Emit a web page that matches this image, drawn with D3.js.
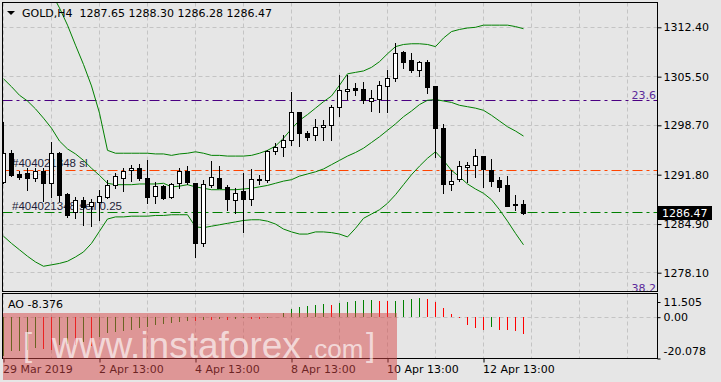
<!DOCTYPE html>
<html>
<head>
<meta charset="utf-8">
<script src="https://cdn.jsdelivr.net/npm/d3@7"></script>
<style>
  html, body { margin: 0; padding: 0; background: #e6e6e6; }
  svg { display: block; }
</style>
</head>
<body>
<svg id="chart" width="721" height="382"></svg>
<script>
// ---- data ----
const headerSymbol = 'GOLD,H4';
const headerOHLC = [1287.65, 1288.30, 1286.28, 1286.47];

const timeLabels = ['29 Mar 2019', '2 Apr 13:00', '4 Apr 13:00', '8 Apr 13:00', '10 Apr 13:00', '12 Apr 13:00'];
const timeLabelIndex = [0, 12, 24, 36, 48, 60];

const open = [1290.8, 1294.8, 1291.8, 1292.0, 1291.4, 1292.3, 1290.6, 1294.8, 1289.0, 1286.6,
  1288.2, 1287.3, 1287.9, 1288.7, 1290.3, 1291.4, 1292.4, 1292.7, 1291.3, 1288.7,
  1290.2, 1288.6, 1290.5, 1292.2, 1290.6, 1282.1, 1290.2, 1291.3, 1290.0, 1288.2,
  1289.4, 1288.2, 1291.0, 1291.1, 1295.1, 1295.6, 1296.6, 1300.5, 1297.6, 1297.4,
  1298.4, 1298.7, 1301.2, 1303.4, 1303.8, 1303.7, 1302.1, 1302.3, 1304.2, 1305.3,
  1308.9, 1307.8, 1306.5, 1307.5, 1304.1, 1298.2, 1290.4, 1291.0, 1292.9, 1293.0,
  1294.3, 1292.4, 1291.0, 1290.3, 1287.6, 1287.65];
const high = [1299.2, 1295.2, 1292.3, 1292.7, 1292.8, 1292.7, 1296.3, 1295.0, 1289.2, 1288.7,
  1288.7, 1288.4, 1289.7, 1291.1, 1292.0, 1292.7, 1293.1, 1293.3, 1293.8, 1290.8,
  1290.3, 1290.7, 1292.8, 1293.0, 1290.7, 1291.0, 1293.7, 1293.0, 1290.4, 1290.0,
  1292.1, 1292.6, 1291.7, 1295.2, 1296.2, 1297.4, 1303.3, 1300.6, 1297.9, 1299.6,
  1299.4, 1301.5, 1305.7, 1305.7, 1304.6, 1304.7, 1303.7, 1304.9, 1306.5, 1310.2,
  1309.1, 1308.8, 1307.7, 1307.8, 1304.2, 1298.9, 1292.4, 1293.7, 1293.6, 1295.4,
  1294.4, 1294.0, 1291.5, 1291.6, 1289.0, 1288.30];
const low = [1290.6, 1291.6, 1291.2, 1289.7, 1290.9, 1288.1, 1288.7, 1288.1, 1285.9, 1285.7,
  1284.8, 1284.6, 1285.5, 1288.6, 1290.0, 1289.5, 1290.9, 1291.1, 1287.9, 1287.9,
  1288.4, 1288.6, 1289.9, 1290.5, 1280.3, 1281.8, 1290.1, 1289.9, 1286.9, 1286.5,
  1283.8, 1287.5, 1290.5, 1290.8, 1294.7, 1294.4, 1295.9, 1295.8, 1296.7, 1296.6,
  1296.7, 1296.6, 1300.0, 1302.4, 1302.9, 1301.8, 1300.7, 1300.6, 1300.5, 1304.9,
  1306.7, 1306.2, 1305.6, 1303.2, 1294.3, 1289.3, 1289.6, 1290.9, 1290.8, 1291.5,
  1290.1, 1290.2, 1289.5, 1287.4, 1286.8, 1286.28];
const close = [1294.8, 1291.7, 1291.4, 1291.4, 1292.3, 1290.6, 1294.8, 1289.0, 1286.0, 1288.2,
  1287.3, 1287.9, 1288.7, 1290.3, 1291.6, 1292.3, 1292.7, 1291.3, 1288.7, 1290.1,
  1288.5, 1290.4, 1292.2, 1290.6, 1282.2, 1290.4, 1291.4, 1290.0, 1288.2, 1289.2,
  1288.2, 1291.1, 1291.1, 1295.1, 1295.6, 1296.6, 1300.5, 1297.6, 1297.1, 1298.4,
  1298.7, 1301.2, 1303.6, 1303.7, 1303.5, 1302.1, 1302.5, 1304.2, 1305.3, 1308.8,
  1307.5, 1306.5, 1307.5, 1304.1, 1298.2, 1290.4, 1290.8, 1292.9, 1293.1, 1294.3,
  1292.4, 1290.9, 1290.1, 1287.4, 1287.4, 1286.47];

// Bollinger bands
const bbUpper = [1329.5, 1327.4, 1325.3, 1323.2, 1321.3, 1319.3, 1317.2, 1315.1, 1312.7, 1309.9,
  1307.2, 1304.2, 1300.4, 1295.2, 1294.8, 1294.8, 1294.8, 1294.8, 1294.8, 1294.7,
  1294.7, 1294.5, 1294.7, 1294.8, 1295.0, 1294.8, 1294.5, 1294.5, 1294.4, 1294.4,
  1294.4, 1294.5, 1294.8, 1295.2, 1295.8, 1296.9, 1298.2, 1299.4, 1300.2, 1301.1,
  1302.0, 1302.8, 1304.3, 1305.9, 1306.1, 1306.3, 1306.8, 1307.6, 1308.7, 1309.7,
  1310.0, 1310.1, 1310.1, 1310.0, 1309.7, 1310.9, 1311.8, 1312.1, 1312.3, 1312.4,
  1312.7, 1312.7, 1312.7, 1312.7, 1312.5, 1312.2];
const bbMiddle = [1305.2, 1304.1, 1302.9, 1302.1, 1301.0, 1299.7, 1298.3, 1296.5, 1295.4, 1294.7,
  1293.8, 1292.7, 1291.7, 1290.6, 1290.4, 1290.4, 1290.4, 1290.5, 1290.5, 1290.5,
  1290.6, 1290.1, 1290.2, 1290.4, 1290.1, 1289.9, 1289.7, 1289.7, 1289.7, 1289.7,
  1289.8, 1289.9, 1290.1, 1290.3, 1290.6, 1290.9, 1291.1, 1291.6, 1291.9, 1292.2,
  1292.6, 1293.2, 1293.8, 1294.4, 1294.9, 1295.5, 1296.3, 1297.1, 1298.0, 1298.9,
  1299.9, 1300.7, 1301.6, 1302.2, 1302.3, 1302.1, 1301.9, 1301.5, 1301.3, 1301.1,
  1300.8, 1300.1, 1299.3, 1298.5, 1297.9, 1297.2];
const bbLower = [1283.2, 1282.2, 1281.3, 1280.4, 1279.6, 1279.0, 1279.2, 1279.4, 1279.7, 1280.3,
  1281.0, 1282.2, 1283.9, 1285.6, 1285.9, 1285.9, 1286.0, 1286.0, 1286.0, 1286.1,
  1286.1, 1286.2, 1286.2, 1286.2, 1284.5, 1284.4, 1284.6, 1284.8, 1285.0, 1285.2,
  1285.4, 1285.5, 1285.5, 1285.3, 1284.9, 1284.2, 1283.8, 1283.5, 1283.5, 1283.8,
  1283.8, 1283.7, 1283.5, 1283.1, 1284.3, 1285.7, 1286.3, 1286.9, 1287.8, 1289.0,
  1290.4, 1291.8, 1293.0, 1294.1, 1295.0, 1293.8, 1292.4, 1291.5, 1290.5, 1289.8,
  1289.2, 1288.3, 1286.9, 1285.3, 1283.6, 1282.0];

// Awesome Oscillator
const aoValues = [-18.9, -16.6, -16.3, -16.0, -15.2, -15.6, -15.8, -13.4, -13.0, -13.6,
  -12.0, -13.8, -9.5, -7.8, -7.2, -6.6, -6.0, -5.4, -4.6, -3.8,
  -3.2, -2.8, -2.4, -1.9, -2.0, -1.3, -1.4, -1.1, -1.2, -0.8,
  -0.6, -0.7, -0.9, -0.3, 0.2, 1.8, 4.0, 5.0, 5.3, 5.8,
  6.3, 5.7, 6.7, 7.3, 7.8, 8.3, 8.4, 8.1, 7.8, 8.1,
  8.4, 8.7, 9.2, 9.0, 7.3, 4.4, 1.5, -0.6, -3.9, -5.5,
  -6.0, -5.0, -6.0, -6.3, -6.6, -8.376];

const priceTicks = [1312.40, 1305.50, 1298.70, 1291.80, 1284.90, 1278.10];
const aoTicks = [11.505, 0, -20.078];
const fibLabels = ['23.6', '38.2'];
const fibPrices = [1302.14, 1275.2];
const orderLabels = ['#404021348 sl', '#404021348 sell 0.25'];
const orderPrices = [1292.44, 1286.47];
const lastPrice = 1286.47;

// ---- layout ----
const plot = { left: 2.5, right: 657.5, top: 2.5, bottom: 291.5 };
const sub = { top: 293.5, bottom: 358.5 };
const FONT = '"DejaVu Sans", sans-serif';
const GRID = '#c4c4c4';
const BAND = '#008000';

const svg = d3.select('#chart')
  .style('font-family', FONT);

svg.append('rect')
  .attr('width', 721).attr('height', 382)
  .attr('fill', '#e6e6e6');

const defs = svg.append('defs');
defs.append('clipPath').attr('id', 'clipMain')
  .append('rect')
  .attr('x', plot.left).attr('y', plot.top)
  .attr('width', plot.right - plot.left).attr('height', plot.bottom - plot.top);
defs.append('clipPath').attr('id', 'clipSub')
  .append('rect')
  .attr('x', plot.left).attr('y', sub.top)
  .attr('width', plot.right - plot.left).attr('height', sub.bottom - sub.top);

// scales: one bar every 8px
const x = d3.scaleLinear().domain([0, 81.75]).range([3.5, 657.5]);
const y = d3.scaleLinear().domain([1278.10, 1312.40]).range([272.7, 27.3]);
const yAO = d3.scaleLinear().domain([-20.078, 11.505]).range([sub.bottom, sub.top]);
const crisp = v => Math.round(v - 0.5) + 0.5;

const gridIdx = d3.range(0, 82, 6);

// ---- main panel ----
const main = svg.append('g').attr('clip-path', 'url(#clipMain)');

// grid
main.selectAll('.vgrid')
  .data(gridIdx)
  .enter()
  .append('line')
  .attr('x1', d => crisp(x(d))).attr('x2', d => crisp(x(d)))
  .attr('y1', plot.top).attr('y2', plot.bottom)
  .attr('stroke', GRID).attr('stroke-dasharray', '4,3');

main.selectAll('.hgrid')
  .data(priceTicks)
  .enter()
  .append('line')
  .attr('x1', plot.left).attr('x2', plot.right)
  .attr('y1', d => crisp(y(d))).attr('y2', d => crisp(y(d)))
  .attr('stroke', GRID).attr('stroke-dasharray', '4,3');

// fibo levels
main.selectAll('.fib')
  .data(fibPrices)
  .enter()
  .append('line')
  .attr('x1', plot.left).attr('x2', plot.right)
  .attr('y1', d => crisp(y(d))).attr('y2', d => crisp(y(d)))
  .attr('stroke', '#4b0082').attr('stroke-dasharray', '10,4,3,4');

main.selectAll('.fibLabel')
  .data(fibPrices)
  .enter()
  .append('text')
  .attr('x', 656)
  .attr('y', d => y(d) - 1.5)
  .attr('text-anchor', 'end')
  .attr('fill', '#5b2a9a')
  .style('font-size', '11px')
  .text((d, i) => fibLabels[i]);

// order lines
const orderColors = ['#ff4500', '#008000'];
main.selectAll('.order')
  .data(orderPrices)
  .enter()
  .append('line')
  .attr('x1', plot.left).attr('x2', plot.right)
  .attr('y1', d => crisp(y(d))).attr('y2', d => crisp(y(d)))
  .attr('stroke', (d, i) => orderColors[i]).attr('stroke-dasharray', '10,4,3,4');

main.selectAll('.orderLabel')
  .data(orderPrices)
  .enter()
  .append('text')
  .attr('x', 12)
  .attr('y', d => y(d) - 3)
  .attr('fill', '#1e1e3a')
  .style('font-family', '"Liberation Sans", Arial, sans-serif')
  .style('font-size', '11.5px')
  .text((d, i) => orderLabels[i]);

// bollinger bands
const bandLine = d3.line()
  .x((d, i) => x(i))
  .y(d => y(d));

[bbUpper, bbMiddle, bbLower].forEach(series => {
  main.append('path')
    .datum(series)
    .attr('d', bandLine)
    .attr('fill', 'none')
    .attr('stroke', BAND)
    .attr('stroke-width', 1);
});

// candles
const candles = main.selectAll('.candle')
  .data(open.map((o, i) => ({ i, o, h: high[i], l: low[i], c: close[i] })))
  .enter()
  .append('g')
  .attr('class', 'candle')
  .style('shape-rendering', 'crispEdges');

candles.append('line')
  .attr('x1', d => crisp(x(d.i))).attr('x2', d => crisp(x(d.i)))
  .attr('y1', d => Math.round(y(d.h))).attr('y2', d => Math.round(y(d.l)) + 1)
  .attr('stroke', '#000');

candles.append('rect')
  .attr('x', d => crisp(x(d.i)) - 2)
  .attr('width', 4)
  .attr('y', d => crisp(y(Math.max(d.o, d.c))))
  .attr('height', d => Math.max(1, Math.round(y(Math.min(d.o, d.c))) - Math.round(y(Math.max(d.o, d.c)))))
  .attr('fill', d => d.c >= d.o ? '#fff' : '#000')
  .attr('stroke', '#000');

// header
svg.append('path')
  .attr('d', 'M7,11 L15,11 L11,15 Z')
  .attr('fill', '#000');
svg.append('text')
  .attr('x', 22).attr('y', 17)
  .attr('fill', '#000')
  .style('font-size', '11px')
  .style('white-space', 'pre')
  .text(headerSymbol + '\u00a0\u00a0' + headerOHLC.map(v => v.toFixed(2)).join(' '));

// price axis
const yAxis = svg.append('g')
  .attr('transform', `translate(${plot.right},0)`)
  .call(d3.axisRight(y).tickValues(priceTicks).tickFormat(d3.format('.2f')).tickSize(4).tickPadding(2));
yAxis.select('.domain').remove();
yAxis.selectAll('text').style('font-size', '11px').style('font-family', FONT).attr('fill', '#000');
yAxis.selectAll('line').attr('stroke', '#000');

// current price box
svg.append('rect')
  .attr('x', 658).attr('y', Math.round(y(lastPrice)) - 7)
  .attr('width', 54).attr('height', 14)
  .attr('fill', '#000');
svg.append('text')
  .attr('x', 662).attr('y', y(lastPrice))
  .attr('dy', '0.36em')
  .attr('fill', '#fff')
  .style('font-size', '11px')
  .text(lastPrice.toFixed(2));

// ---- AO panel ----
const aoG = svg.append('g').attr('clip-path', 'url(#clipSub)');

aoG.selectAll('.vgrid')
  .data(gridIdx)
  .enter()
  .append('line')
  .attr('x1', d => crisp(x(d))).attr('x2', d => crisp(x(d)))
  .attr('y1', sub.top).attr('y2', sub.bottom)
  .attr('stroke', GRID).attr('stroke-dasharray', '4,3');

aoG.append('line')
  .attr('x1', plot.left).attr('x2', plot.right)
  .attr('y1', crisp(yAO(0))).attr('y2', crisp(yAO(0)))
  .attr('stroke', GRID).attr('stroke-dasharray', '4,3');

aoG.selectAll('.ao')
  .data(aoValues)
  .enter()
  .append('line')
  .attr('x1', (d, i) => crisp(x(i))).attr('x2', (d, i) => crisp(x(i)))
  .attr('y1', Math.round(yAO(0)))
  .attr('y2', d => Math.round(yAO(d)))
  .attr('stroke', (d, i) => (i === 0 || d >= aoValues[i - 1]) ? '#008000' : '#ff0000')
  .style('shape-rendering', 'crispEdges');

svg.append('text')
  .attr('x', 8).attr('y', 308)
  .attr('fill', '#000')
  .style('font-size', '11px')
  .text('AO ' + aoValues[aoValues.length - 1].toFixed(3));

const aoAxis = svg.append('g')
  .attr('transform', `translate(${plot.right},0)`)
  .call(d3.axisRight(yAO).tickValues(aoTicks)
    .tickFormat(d => d === 0 ? '0.00' : d.toFixed(3)).tickSize(3).tickPadding(3));
aoAxis.select('.domain').remove();
aoAxis.selectAll('text').style('font-size', '11px').style('font-family', FONT).attr('fill', '#000');
aoAxis.selectAll('line').attr('stroke', '#000');
aoAxis.selectAll('.tick')
  .filter(d => d === aoTicks[0])
  .attr('transform', d => `translate(0,${yAO(d) + 9})`);
aoAxis.selectAll('.tick')
  .filter(d => d === aoTicks[2])
  .select('text')
  .attr('dy', '-0.4em');

// time axis
const xAxis = svg.append('g')
  .attr('transform', `translate(0,${sub.bottom})`)
  .call(d3.axisBottom(x).tickValues(timeLabelIndex)
    .tickFormat((d, i) => timeLabels[i]).tickSize(4).tickPadding(3));
xAxis.select('.domain').remove();
xAxis.selectAll('text')
  .attr('text-anchor', 'start')
  .attr('x', -1)
  .style('font-size', '11px').style('font-family', FONT).attr('fill', '#000');
xAxis.selectAll('line').attr('stroke', '#000');

// borders
svg.append('rect')
  .attr('x', plot.left).attr('y', plot.top)
  .attr('width', plot.right - plot.left).attr('height', plot.bottom - plot.top)
  .attr('fill', 'none').attr('stroke', '#000');
svg.append('rect')
  .attr('x', plot.left).attr('y', sub.top)
  .attr('width', plot.right - plot.left).attr('height', sub.bottom - sub.top)
  .attr('fill', 'none').attr('stroke', '#000');

// watermark
const wm = svg.append('g');
wm.append('rect')
  .attr('x', 3).attr('y', 313)
  .attr('width', 394).attr('height', 67)
  .attr('fill', 'rgba(214,70,70,0.5)');
const wmFont = '"Liberation Sans", Arial, sans-serif';
wm.append('text')
  .attr('x', 23).attr('y', 356)
  .attr('fill', 'rgba(255,255,255,0.65)')
  .style('font-family', wmFont).style('font-size', '33px')
  .text('[');
wm.append('text')
  .attr('x', 52).attr('y', 358)
  .attr('fill', 'rgba(255,255,255,0.65)')
  .style('font-family', wmFont).style('font-size', '37px')
  .text('www.instaforex');
wm.append('text')
  .attr('x', 307).attr('y', 358)
  .attr('fill', 'rgba(255,255,255,0.65)')
  .style('font-family', wmFont).style('font-size', '26px')
  .text('.com');
wm.append('text')
  .attr('x', 366).attr('y', 356)
  .attr('fill', 'rgba(255,255,255,0.65)')
  .style('font-family', wmFont).style('font-size', '33px')
  .text(']');
</script>
</body>
</html>
